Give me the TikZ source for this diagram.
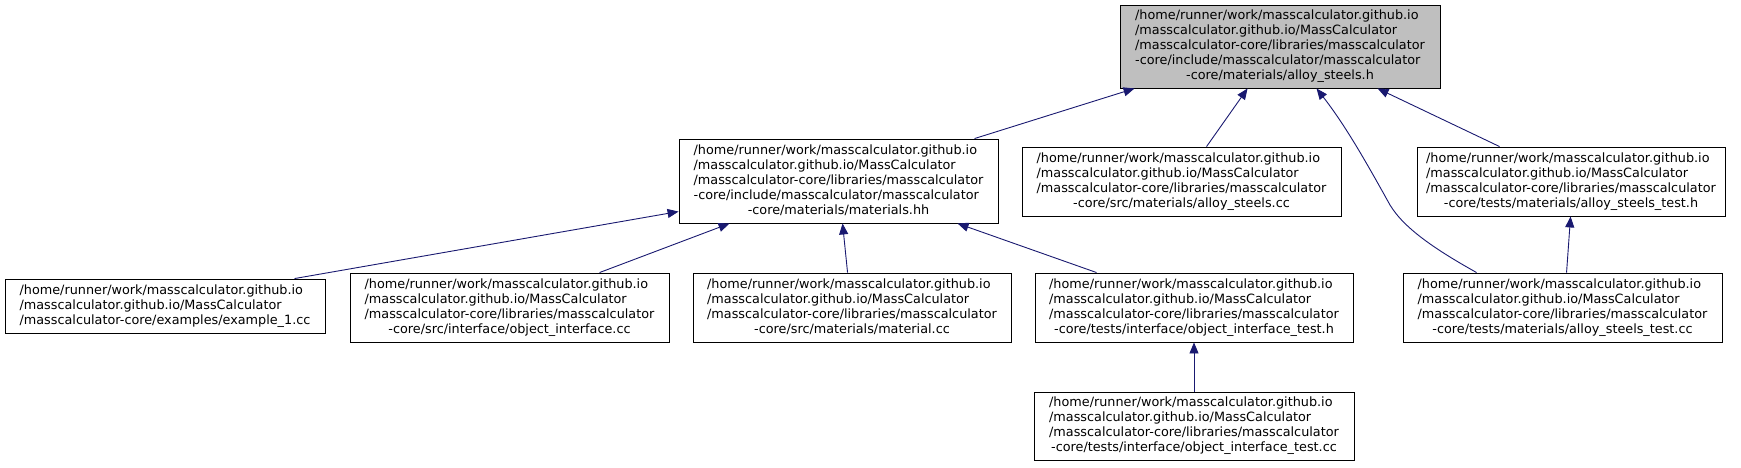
\documentclass[tikz,border=0pt]{standalone}
\usepackage{fontspec}
\setmainfont{DejaVu Sans}
\usetikzlibrary{arrows.meta,calc}
\definecolor{edgec}{HTML}{191970}
\definecolor{topfill}{HTML}{BFBFBF}
\newcommand{\hdlines}{/home/runner/work/masscalculator.github.io\\/masscalculator.github.io/MassCalculator\\/masscalculator-core/libraries/masscalculator}
\newcommand{\lab}[2]{\begin{tabular}{@{}l@{}}#1\\\multicolumn{1}{@{}c@{}}{#2}\end{tabular}}
\tikzset{
  filebox/.style={draw=black, line width=0.9pt, fill=white, inner sep=0pt,
    font=\fontsize{12.8}{15}\selectfont},
  dep/.style={draw=edgec, line width=0.9pt, -{Triangle[length=11pt,width=9pt]}, edgec}
}
\begin{document}
\begin{tikzpicture}
\useasboundingbox (0,0) rectangle (1741pt,-467pt);
% top
\node[filebox, fill=topfill, minimum width=320pt, minimum height=83pt] (A) at (1280pt,-46.5pt)
  {\lab{\hdlines\\-core/include/masscalculator/masscalculator}{-core/materials/alloy\_steels.h}};
% middle row
\node[filebox, minimum width=319pt, minimum height=84pt] (B) at (838.5pt,-181pt)
  {\lab{\hdlines\\-core/include/masscalculator/masscalculator}{-core/materials/materials.hh}};
\node[filebox, minimum width=319pt, minimum height=69pt] (C) at (1181.5pt,-181.5pt)
  {\lab{\hdlines}{-core/src/materials/alloy\_steels.cc}};
\node[filebox, minimum width=308pt, minimum height=69pt] (D) at (1571pt,-181.5pt)
  {\lab{\hdlines}{-core/tests/materials/alloy\_steels\_test.h}};
% bottom row
\node[filebox, minimum width=320pt, minimum height=54pt] (E) at (165pt,-306pt)
  {\lab{/home/runner/work/masscalculator.github.io\\/masscalculator.github.io/MassCalculator}{/masscalculator-core/examples/example\_1.cc}};
\node[filebox, minimum width=319pt, minimum height=69pt] (F) at (509.5pt,-307.5pt)
  {\lab{\hdlines}{-core/src/interface/object\_interface.cc}};
\node[filebox, minimum width=318pt, minimum height=69pt] (G) at (852pt,-307.5pt)
  {\lab{\hdlines}{-core/src/materials/material.cc}};
\node[filebox, minimum width=318pt, minimum height=69pt] (H) at (1194pt,-307.5pt)
  {\lab{\hdlines}{-core/tests/interface/object\_interface\_test.h}};
\node[filebox, minimum width=319pt, minimum height=69pt] (I) at (1562.5pt,-307.5pt)
  {\lab{\hdlines}{-core/tests/materials/alloy\_steels\_test.cc}};
\node[filebox, minimum width=320pt, minimum height=68pt] (J) at (1194pt,-426pt)
  {\lab{\hdlines}{-core/tests/interface/object\_interface\_test.cc}};
% edges
\draw[dep] ($(B.north west)+(296pt,0)$) -- ($(A.south west)+(15pt,0)$);
\draw[dep] ($(C.north west)+(185pt,0)$) -- ($(A.south west)+(128pt,0)$);
\draw[dep] ($(I.north west)+(74pt,0)$) .. controls (1440pt,-252pt) and (1405pt,-230pt) .. (1390pt,-205pt)
  .. controls (1365pt,-160pt) and (1345pt,-125pt) .. ($(A.south west)+(197pt,0)$);
\draw[dep] ($(D.north west)+(83pt,0)$) -- ($(A.south west)+(258pt,0)$);
\draw[dep] ($(E.north west)+(290pt,0)$) -- ($(B.north west)+(0,-73pt)$);
\draw[dep] ($(F.north west)+(250pt,0)$) -- ($(B.south west)+(51pt,0)$);
\draw[dep] ($(G.north west)+(155pt,0)$) -- ($(B.south west)+(164pt,0)$);
\draw[dep] ($(H.north west)+(62pt,0)$) -- ($(B.south west)+(279pt,0)$);
\draw[dep] (J.north) -- (H.south);
\draw[dep] ($(I.north west)+(164pt,0)$) -- ($(D.south west)+(154pt,0)$);
\end{tikzpicture}
\end{document}
